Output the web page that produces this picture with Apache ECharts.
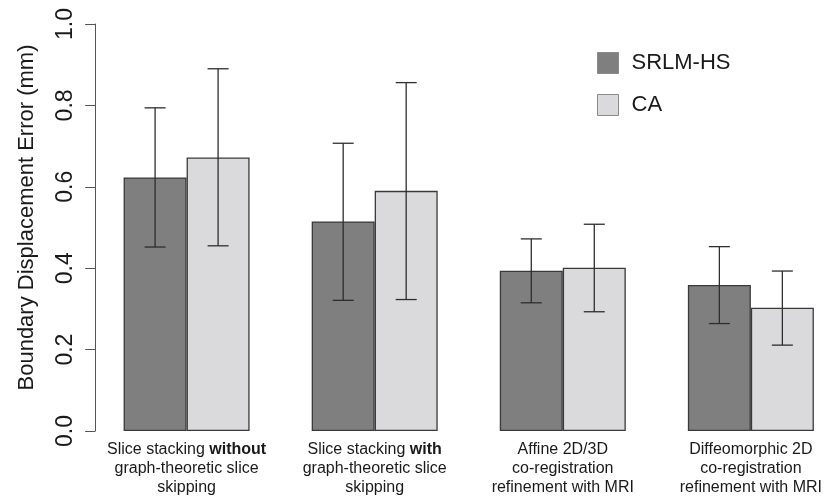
<!DOCTYPE html>
<html>
<head>
<meta charset="utf-8">
<script src="https://cdn.jsdelivr.net/npm/echarts@6/dist/echarts.min.js"></script>
<style>html,body{margin:0;padding:0;background:#fff}#c{width:825px;height:498px}</style>
</head>
<body>
<div id="c"></div>
<script>
// ---- data ----
var categories = [
  ['Slice stacking {b|without}', 'graph-theoretic slice', 'skipping'],
  ['Slice stacking {b|with}', 'graph-theoretic slice', 'skipping'],
  ['Affine 2D/3D', 'co-registration', 'refinement with MRI'],
  ['Diffeomorphic 2D', 'co-registration', 'refinement with MRI']
];
// group centres in bar-width units (R barplot, beside=TRUE, space=c(0,1))
var groupPos = [2, 5, 8, 11];
var seriesNames = ['SRLM-HS', 'CA'];
var srlmMean = [0.623, 0.515, 0.394, 0.359];
var srlmLow  = [0.452, 0.321, 0.315, 0.264];
var srlmHigh = [0.794, 0.707, 0.472, 0.453];
var caMean = [0.672, 0.590, 0.401, 0.303];
var caLow  = [0.455, 0.323, 0.293, 0.211];
var caHigh = [0.890, 0.856, 0.508, 0.393];
var yTicks = [0.0, 0.2, 0.4, 0.6, 0.8, 1.0];

// ---- style ----
var FONT = 'Liberation Sans, Arial, Helvetica, sans-serif';
var BAR_W = 63;
var CAP_HALF = 10.5;
var colors = ['#7e7f7e', '#dadadc'];

var chart = echarts.init(document.getElementById('c'), null, {renderer: 'canvas'});

function pairs(vals) { return vals.map(function (v, i) { return [groupPos[i], v]; }); }

function errSeries(name, low, high, side) {
  var data = low.map(function (l, i) { return [groupPos[i], l, high[i]]; });
  return {
    type: 'custom',
    name: name + ' err',
    silent: true,
    z: 5,
    data: data,
    encode: {x: 0, y: [1, 2]},
    renderItem: function (params, api) {
      var lo = api.coord([api.value(0), api.value(1)]);
      var hi = api.coord([api.value(0), api.value(2)]);
      var x = lo[0] + side * BAR_W / 2;
      var st = {stroke: '#2e2e2e', lineWidth: 1.3, fill: null};
      return {
        type: 'group',
        children: [
          {type: 'line', shape: {x1: x, y1: lo[1], x2: x, y2: hi[1]}, style: st},
          {type: 'line', shape: {x1: x - CAP_HALF, y1: lo[1], x2: x + CAP_HALF, y2: lo[1]}, style: st},
          {type: 'line', shape: {x1: x - CAP_HALF, y1: hi[1], x2: x + CAP_HALF, y2: hi[1]}, style: st}
        ]
      };
    }
  };
}

var option = {
  animation: false,
  backgroundColor: '#ffffff',
  textStyle: {fontFamily: FONT},
  grid: {left: 61.2, right: 0, top: 24, bottom: 67, containLabel: false},
  legend: {
    data: seriesNames,
    orient: 'vertical',
    left: 597,
    top: 52,
    padding: 0,
    itemWidth: 21,
    itemHeight: 21,
    itemGap: 20,
    icon: 'rect',
    itemStyle: {borderColor: '#8a8a8a', borderWidth: 1},
    textStyle: {fontSize: 22, color: '#1a1a1a', fontFamily: FONT, padding: [0, 0, 0, 8]}
  },
  xAxis: {
    type: 'value',
    min: 0,
    max: 12.153,
    splitLine: {show: false},
    axisLine: {show: false},
    axisTick: {show: false},
    axisLabel: {
      customValues: groupPos,
      showMinLabel: true,
      showMaxLabel: true,
      margin: 9,
      fontSize: 16,
      lineHeight: 19,
      color: '#1a1a1a',
      fontFamily: FONT,
      formatter: function (v) {
        var i = groupPos.indexOf(v);
        return i < 0 ? '' : categories[i].join('\n');
      },
      rich: {b: {fontWeight: 'bold', fontSize: 16, fontFamily: FONT, color: '#1a1a1a'}}
    }
  },
  yAxis: {
    type: 'value',
    min: 0,
    max: 1,
    interval: 0.2,
    offset: -34,
    name: 'Boundary Displacement Error (mm)',
    nameLocation: 'middle',
    nameRotate: 90,
    nameGap: 57,
    nameTextStyle: {fontSize: 22, color: '#1a1a1a', fontFamily: FONT, padding: [0, 0, 0, 20]},
    splitLine: {show: false},
    axisLine: {show: true, lineStyle: {color: '#555', width: 1}},
    axisTick: {show: true, inside: false, length: 10, lineStyle: {color: '#555', width: 1}},
    axisLabel: {
      rotate: 90,
      margin: 18,
      fontSize: 23,
      color: '#1a1a1a',
      fontFamily: FONT,
      formatter: function (v) { return v.toFixed(1); }
    }
  },
  series: [
    {
      type: 'bar',
      name: seriesNames[0],
      data: pairs(srlmMean),
      barWidth: BAR_W,
      barGap: '0%',
      itemStyle: {color: colors[0], borderColor: '#3a3a3a', borderWidth: 1.3}
    },
    {
      type: 'bar',
      name: seriesNames[1],
      data: pairs(caMean),
      barWidth: BAR_W,
      barGap: '0%',
      itemStyle: {color: colors[1], borderColor: '#3a3a3a', borderWidth: 1.3}
    },
    errSeries(seriesNames[0], srlmLow, srlmHigh, -1),
    errSeries(seriesNames[1], caLow, caHigh, 1)
  ]
};
chart.setOption(option);
</script>
</body>
</html>
